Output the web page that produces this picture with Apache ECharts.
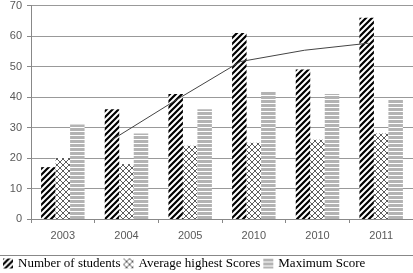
<!DOCTYPE html>
<html>
<head>
<meta charset="utf-8">
<script src="https://cdn.jsdelivr.net/npm/echarts@6/dist/echarts.min.js"></script>
<style>
  html, body { margin: 0; padding: 0; background: #fff; }
  #chart { width: 413px; height: 273px; }
</style>
</head>
<body>
<div id="chart"></div>
<script>
const years = ['2003', '2004', '2005', '2010', '2010', '2011'];
const students = [17, 36, 41, 61, 49, 66];
const avgHighest = [20, 18, 24, 25, 26, 28];
const maxScore = [31, 28, 36, 42, 41, 39];
const trend = [null, 26, 39, 51.5, 55.2, 57.5];
const yTicks = { min: 0, max: 70, step: 10 };

function makeTile(w, h, draw) {
    const c = document.createElement('canvas');
    c.width = w; c.height = h;
    const ctx = c.getContext('2d');
    ctx.fillStyle = '#fff';
    ctx.fillRect(0, 0, w, h);
    draw(ctx);
    return c;
}

// diagonal black hatch ///
const hatchTile = makeTile(6, 6, ctx => {
    ctx.strokeStyle = '#000';
    ctx.lineWidth = 2.2;
    ctx.beginPath();
    ctx.moveTo(-1, 7); ctx.lineTo(7, -1);
    ctx.moveTo(-4, 4); ctx.lineTo(4, -4);
    ctx.moveTo(2, 10); ctx.lineTo(10, 2);
    ctx.stroke();
});

// thin crosshatch (diamonds)
const crossTile = makeTile(6, 6, ctx => {
    ctx.strokeStyle = '#333';
    ctx.lineWidth = 0.8;
    ctx.beginPath();
    ctx.moveTo(0, 0); ctx.lineTo(6, 6);
    ctx.moveTo(6, 0); ctx.lineTo(0, 6);
    ctx.stroke();
});

// horizontal grey stripes
const stripeTile = makeTile(4, 4, ctx => {
    ctx.fillStyle = '#b3b3b3';
    ctx.fillRect(0, 0, 4, 3);
});

const chart = echarts.init(document.getElementById('chart'), null, { renderer: 'canvas' });

const axisFont = { fontFamily: 'Liberation Sans', fontSize: 11, color: '#595959' };

function barSeries(name, data, tile) {
    return {
        name,
        type: 'bar',
        data,
        barWidth: 14.5,
        barGap: '0%',
        itemStyle: { color: { image: tile, repeat: 'repeat' } },
        emphasis: { disabled: true }
    };
}

chart.setOption({
    animation: false,
    grid: [
        { left: 31, right: -2, top: 5, bottom: 54 },
        { left: 16.5, right: 12.5, top: 5, bottom: 54 }
    ],
    legend: {
        left: -2,
        top: 252,
        padding: 5,
        itemWidth: 10,
        itemHeight: 10,
        itemGap: 3,
        icon: 'rect',
        data: ['Number of students', 'Average highest Scores', 'Maximum Score'],
        textStyle: { fontFamily: 'Liberation Serif', fontSize: 13, color: '#000', padding: [0, 0, 0, 0] }
    },
    xAxis: [
        {
            type: 'category',
            gridIndex: 0,
            data: years,
            axisLine: { lineStyle: { color: '#888' } },
            axisTick: { show: true, length: 4, lineStyle: { color: '#888' } },
            axisLabel: Object.assign({ margin: 11 }, axisFont)
        },
        {
            type: 'category',
            gridIndex: 1,
            data: years,
            show: false
        }
    ],
    yAxis: [
        {
            type: 'value',
            gridIndex: 0,
            min: yTicks.min,
            max: yTicks.max,
            interval: yTicks.step,
            axisLine: { show: true, lineStyle: { color: '#888' } },
            axisTick: { show: true, length: 4, lineStyle: { color: '#888' } },
            axisLabel: Object.assign({ margin: 9 }, axisFont),
            splitLine: { lineStyle: { color: '#999' } }
        },
        {
            type: 'value',
            gridIndex: 1,
            min: yTicks.min,
            max: yTicks.max,
            show: false,
            splitLine: { show: false }
        }
    ],
    series: [
        barSeries('Number of students', students, hatchTile),
        barSeries('Average highest Scores', avgHighest, crossTile),
        barSeries('Maximum Score', maxScore, stripeTile),
        {
            name: 'trend',
            type: 'line',
            xAxisIndex: 1,
            yAxisIndex: 1,
            data: trend,
            symbol: 'none',
            lineStyle: { color: '#444', width: 1 },
            z: 5
        }
    ],
    graphic: [{
        type: 'line',
        shape: { x1: 0, y1: 255.5, x2: 413, y2: 255.5 },
        style: { stroke: '#888', lineWidth: 1 },
        silent: true
    }]
});
</script>
</body>
</html>
